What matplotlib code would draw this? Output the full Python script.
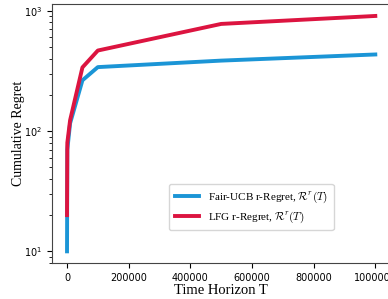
"""
Cumulative r-regret of Fair-UCB vs LFG over the time horizon.
"""

import matplotlib
matplotlib.use('Agg')
import matplotlib.pyplot as plt

# Data
horizon = [10, 1000, 10000, 50000, 100000, 500000, 1000000]
fair_ucb_regret = [10, 70, 116, 264, 340, 385, 433]
lfg_regret = [20, 80, 123, 338, 467, 777, 905]

# Style settings
plt.rcParams['mathtext.fontset'] = 'cm'
plt.rcParams['xtick.labelsize'] = 7
plt.rcParams['ytick.labelsize'] = 7

fig = plt.figure(figsize=(3.88, 2.99), dpi=100)
ax = fig.add_axes([0.133, 0.120, 0.874, 0.866])

ax.plot(horizon, fair_ucb_regret, color='#1b95d6', linewidth=2.8,
        label=r'Fair-UCB r-Regret, $\mathcal{R}^r(T)$')
ax.plot(horizon, lfg_regret, color='#dc1440', linewidth=2.8,
        label=r'LFG r-Regret, $\mathcal{R}^r(T)$')

ax.set_yscale('log')
ax.set_xticks([0, 200000, 400000, 600000, 800000, 1000000])
ax.set_xticklabels(['0', '200000', '400000', '600000', '800000', '1000000'])

for spine in ax.spines.values():
    spine.set_color('#444444')

ax.set_xlabel('Time Horizon T', family='Liberation Serif', fontsize=10.5, labelpad=0.5)
ax.set_ylabel('Cumulative Regret', family='Liberation Serif', fontsize=10, labelpad=-1)

leg = ax.legend(loc='lower left', bbox_to_anchor=(0.33, 0.105),
                prop={'family': 'Liberation Serif', 'size': 8},
                handlelength=2.2, borderpad=0.5, labelspacing=0.4)

fig.savefig('out.png', dpi=100, facecolor='white')
